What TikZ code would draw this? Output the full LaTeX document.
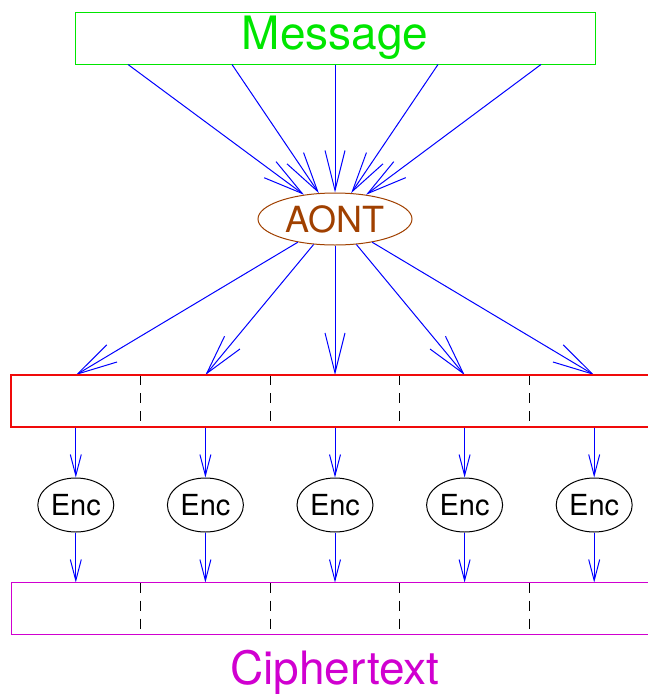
\documentclass[tikz,border=0pt]{standalone}
\usepackage{fontspec}
\setmainfont{TeX Gyre Heros}
\usetikzlibrary{arrows.meta,shapes.geometric}
\definecolor{msggreen}{RGB}{0,230,0}
\definecolor{aontbrown}{RGB}{160,64,0}
\definecolor{ciphmag}{RGB}{208,0,208}
\definecolor{arrblue}{RGB}{0,0,255}
\definecolor{boxred}{RGB}{240,10,10}
\begin{document}
\begin{tikzpicture}[x=1pt,y=-1pt,
  bigarrow/.style={draw=arrblue,line width=1pt,-{Straight Barb[length=40pt,width=20pt]}},
  smallarrow/.style={draw=arrblue,line width=1pt,-{Straight Barb[length=21pt,width=11pt]}},
  seg/.style={rectangle,minimum width=129.6pt,minimum height=52pt,inner sep=0pt,outer sep=0pt},
  encnode/.style={ellipse,draw=black,line width=1pt,minimum width=76pt,minimum height=54pt,inner sep=0pt,font=\fontsize{29}{32}\selectfont},
  divider/.style={draw=black,line width=1pt,dash pattern=on 10pt off 8pt}]
\useasboundingbox (0,0) rectangle (648,694);

% Message box
\node[rectangle,draw=msggreen,line width=1pt,minimum width=519.5pt,minimum height=52pt,inner sep=0pt,text=msggreen,font=\fontsize{46}{50}\selectfont] (msg) at (335.25,38) {Message};
\coordinate (m1) at ([xshift=-207.25pt]msg.south);
\coordinate (m2) at ([xshift=-103.25pt]msg.south);
\coordinate (m3) at ([xshift=-0.25pt]msg.south);
\coordinate (m4) at ([xshift=102.75pt]msg.south);
\coordinate (m5) at ([xshift=205.75pt]msg.south);

% AONT
\node[ellipse,draw=aontbrown,line width=1pt,minimum width=154pt,minimum height=52pt,inner sep=0pt,text=aontbrown,font=\fontsize{36}{40}\selectfont] (aont) at (335,219) {AONT};

% Segments, Enc nodes, cipher segments
\foreach \i in {1,...,5} {
  \node[seg] (r\i) at ({11+129.6*(\i-0.5)},401) {};
  \node[encnode] (e\i) at ({11+129.6*(\i-0.5)},505) {Enc};
  \node[seg] (c\i) at ({11+129.6*(\i-0.5)},608.5) {};
}
\foreach \i in {1,...,4} {
  \draw[divider] (r\i.north east) -- (r\i.south east);
  \draw[divider] (c\i.north east) -- (c\i.south east);
}

\node[inner sep=0pt,text=ciphmag,font=\fontsize{46}{50}\selectfont] (ctext) at (335,672.5) {Ciphertext};

% Arrows message -> AONT
\draw[bigarrow] (m1) -- (aont.142);
\draw[bigarrow] (m2) -- (aont.122);
\draw[bigarrow] (m3) -- (aont.90);
\draw[bigarrow] (m4) -- (aont.58);
\draw[bigarrow] (m5) -- (aont.38);

% Arrows AONT -> segments
\draw[bigarrow] (aont.212) -- (r1.north);
\draw[bigarrow] (aont.230) -- (r2.north);
\draw[bigarrow] (aont.270) -- (r3.north);
\draw[bigarrow] (aont.310) -- (r4.north);
\draw[bigarrow] (aont.328) -- (r5.north);

% Segments -> Enc -> cipher
\foreach \i in {1,...,5} {
  \draw[smallarrow] (r\i.south) -- (e\i.north);
  \draw[smallarrow] (e\i.south) -- (c\i.north);
}

% outer boxes drawn last
\draw[draw=boxred,line width=1.2pt] (r1.north west) -- (r5.north east) -- (r5.south east) -- (r1.south west) -- cycle;
\draw[draw=ciphmag,line width=1pt] (c1.north west) -- (c5.north east) -- (c5.south east) -- (c1.south west) -- cycle;
\end{tikzpicture}
\end{document}
